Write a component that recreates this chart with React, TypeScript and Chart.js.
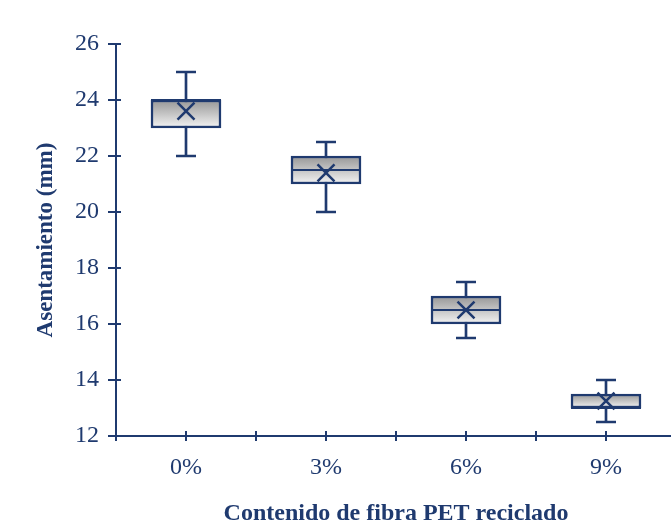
import React, { useEffect, useRef } from 'react';
import { Chart, registerables } from 'chart.js';

Chart.register(...registerables);

const categories = ['0%', '3%', '6%', '9%'];
const minValues = [22, 20, 15.5, 12.5];
const q1Values = [23, 21, 16, 13];
const medianValues = [24, 21.5, 16.5, 13];
const q3Values = [24, 22, 17, 13.5];
const maxValues = [25, 22.5, 17.5, 14];
const meanValues = [23.6, 21.4, 16.5, 13.25];

const yMin = 12;
const yMax = 26;
const yStep = 2;

const NAVY = '#1f3a6f';
const FONT = '"Liberation Serif", "Times New Roman", serif';

const innerTicks = {
  id: 'innerTicks',
  afterDraw(chart: any) {
    const { ctx, scales } = chart;
    const x = scales.x;
    const y = scales.y;
    ctx.save();
    ctx.strokeStyle = NAVY;
    ctx.lineWidth = 2;
    ctx.beginPath();
    x.ticks.forEach((t: any) => {
      const px = Math.round(x.getPixelForValue(t.value));
      ctx.moveTo(px, x.top);
      ctx.lineTo(px, x.top - 5);
    });
    y.ticks.forEach((t: any) => {
      const py = Math.round(y.getPixelForValue(t.value));
      ctx.moveTo(y.right, py);
      ctx.lineTo(y.right + 5, py);
    });
    ctx.stroke();
    ctx.restore();
  },
};

export default function App() {
  const ref = useRef<HTMLCanvasElement | null>(null);

  useEffect(() => {
    if (!ref.current) return;
    const idx = categories.map((_, i) => i);
    const chart = new Chart(ref.current, {
      type: 'bar',
      data: {
        datasets: [
          {
            type: 'bar',
            data: idx.map((i) => ({ x: i, y: [minValues[i], maxValues[i]] })) as any,
            backgroundColor: NAVY,
            borderWidth: 0,
            barThickness: 2,
            grouped: false,
            order: 4,
          } as any,
          {
            type: 'bar',
            data: idx.map((i) => ({ x: i, y: [q1Values[i], q3Values[i]] })) as any,
            backgroundColor: (c: any) => {
              const ch = c.chart;
              const ys = ch.scales && ch.scales.y;
              if (!ys || c.dataIndex === undefined) return '#cccccc';
              const i = c.dataIndex;
              const top = ys.getPixelForValue(q3Values[i]);
              const bot = ys.getPixelForValue(q1Values[i]);
              if (!Number.isFinite(top) || !Number.isFinite(bot)) return '#cccccc';
              const g = ch.ctx.createLinearGradient(0, top, 0, bot);
              g.addColorStop(0, '#969696');
              g.addColorStop(1, '#f4f4f4');
              return g;
            },
            borderColor: NAVY,
            borderWidth: 2.5,
            borderSkipped: false,
            barThickness: 70,
            grouped: false,
            order: 3,
          } as any,
          {
            type: 'scatter',
            data: idx.flatMap((i) => [
              { x: i, y: minValues[i] },
              { x: i, y: maxValues[i] },
            ]),
            pointStyle: 'line',
            pointRadius: 10,
            borderColor: NAVY,
            borderWidth: 2.5,
            order: 2,
          } as any,
          {
            type: 'scatter',
            data: idx.map((i) => ({ x: i, y: medianValues[i] })),
            pointStyle: 'line',
            pointRadius: 35,
            borderColor: NAVY,
            borderWidth: 2,
            order: 1,
          } as any,
          {
            type: 'scatter',
            data: idx.map((i) => ({ x: i, y: meanValues[i] })),
            pointStyle: 'crossRot',
            pointRadius: 12,
            borderColor: NAVY,
            borderWidth: 2.5,
            order: 0,
          } as any,
        ],
      },
      options: {
        animation: false,
        responsive: false,
        devicePixelRatio: 1,
        layout: { autoPadding: false, padding: { top: 44, right: 4, bottom: 0, left: 0 } },
        plugins: { legend: { display: false }, tooltip: { enabled: false } },
        scales: {
          x: {
            type: 'linear',
            min: -0.5,
            max: 3.5,
            offset: false,
            afterFit: (s: any) => {
              s.height = 89;
              s.paddingRight = 0;
              s.paddingLeft = 0;
            },
            ticks: {
              stepSize: 0.5,
              autoSkip: false,
              maxRotation: 0,
              padding: 12,
              color: NAVY,
              font: { family: FONT, size: 24 },
              callback: (v: any) => {
                const n = Number(v);
                return Number.isInteger(n) ? categories[n] ?? '' : '';
              },
            },
            grid: {
              offset: false,
              drawOnChartArea: false,
              color: NAVY,
              lineWidth: 2,
              tickLength: 5,
            },
            border: { color: NAVY, width: 2 },
            title: {
              display: true,
              text: 'Contenido de fibra PET reciclado',
              color: NAVY,
              font: { family: FONT, size: 24, weight: 'bold', lineHeight: 1 },
              padding: { top: 0, bottom: -1 },
            },
          },
          y: {
            type: 'linear',
            min: yMin,
            max: yMax,
            afterFit: (s: any) => {
              s.width = 116;
            },
            ticks: {
              stepSize: yStep,
              padding: 9,
              color: NAVY,
              font: { family: FONT, size: 24 },
            },
            grid: {
              drawOnChartArea: false,
              color: NAVY,
              lineWidth: 2,
              tickLength: 8,
            },
            border: { color: NAVY, width: 2 },
            title: {
              display: true,
              text: 'Asentamiento (mm)',
              color: NAVY,
              font: { family: FONT, size: 23, weight: 'bold', lineHeight: 1 },
              padding: { top: 35, bottom: 0 },
            },
          },
        },
      } as any,
      plugins: [innerTicks],
    });
    return () => chart.destroy();
  }, []);

  return (
    <div
      style={{
        position: 'fixed',
        left: 0,
        top: 0,
        width: 671,
        height: 525,
        overflow: 'hidden',
        background: '#ffffff',
      }}
    >
      <canvas ref={ref} width={680} height={525} style={{ display: 'block' }} />
    </div>
  );
}
